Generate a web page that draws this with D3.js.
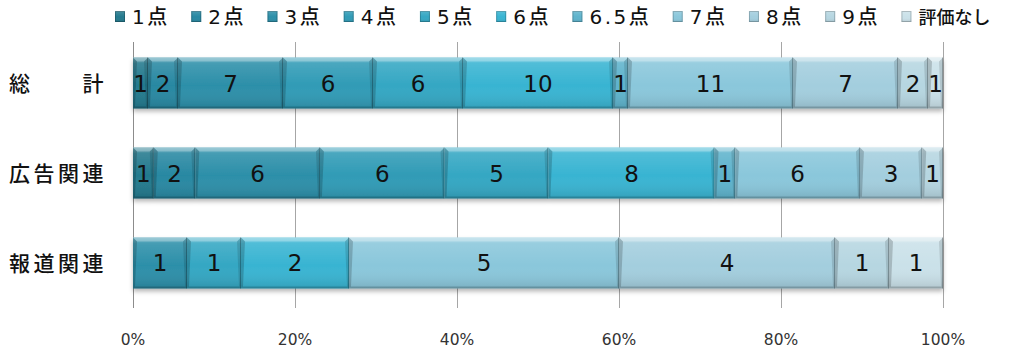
<!DOCTYPE html>
<html>
<head>
<meta charset="utf-8">
<script src="https://cdn.jsdelivr.net/npm/d3@7"></script>
<style>
  html, body { margin: 0; padding: 0; background: #fff; overflow: hidden; }
  svg { display: block; }
</style>
</head>
<body>
<svg id="chart" width="1013" height="350"></svg>
<script>
// Score distribution per group (counts), stacked to 100%
const categories = ["総　　計", "広告関連", "報道関連"];
const seriesNames = ["1点", "2点", "3点", "4点", "5点", "6点", "6.5点", "7点", "8点", "9点", "評価なし"];
const total    = [1, 2, 7, 6, 6, 10, 1, 11, 7, 2, 1];
const ad       = [1, 2, 6, 6, 5, 8, 1, 6, 3, 1, 0];
const press    = [0, 0, 1, 0, 1, 2, 0, 5, 4, 1, 1];
const tickValues = [0, 0.2, 0.4, 0.6, 0.8, 1.0];
const seriesColors = ["#23798d", "#2888a2", "#2c8fa9", "#309bb6", "#34a7c3", "#38b4d2",
                      "#5eb3cc", "#8ac7db", "#a3cede", "#b6d6e1", "#cae1e9"];

const rows = [total, ad, press];
const svg = d3.select("#chart");
const W = 1013;
const plot = { left: 133, right: 943, top: 38, bottom: 308 };

const x = d3.scaleLinear().domain([0, 1]).range([plot.left, plot.right]);
const y = d3.scaleBand().domain(categories).range([plot.top, plot.bottom])
  .paddingInner(0.4333).paddingOuter(0.2167);
const color = d3.scaleOrdinal().domain(seriesNames).range(seriesColors);

// Build stacked segments
const table = categories.map((c, i) => {
  const o = { cat: c };
  seriesNames.forEach((s, j) => o[s] = rows[i][j]);
  o.sum = d3.sum(rows[i]);
  return o;
});
const stack = d3.stack().keys(seriesNames)
  .value((d, k) => d[k] / d.sum);
const layers = stack(table);

const defs = svg.append("defs");
const shade = defs.append("linearGradient").attr("id", "shade")
  .attr("x1", 0).attr("y1", 0).attr("x2", 0).attr("y2", 1);
shade.append("stop").attr("offset", "0").attr("stop-color", "#fff").attr("stop-opacity", 0.35);
shade.append("stop").attr("offset", "0.12").attr("stop-color", "#fff").attr("stop-opacity", 0.12);
shade.append("stop").attr("offset", "0.55").attr("stop-color", "#fff").attr("stop-opacity", 0);
shade.append("stop").attr("offset", "1").attr("stop-color", "#000").attr("stop-opacity", 0.12);
const shadow = defs.append("filter").attr("id", "shadow")
  .attr("x", "-5%").attr("y", "-20%").attr("width", "110%").attr("height", "150%");
shadow.append("feDropShadow").attr("dx", 0).attr("dy", 3).attr("stdDeviation", 2)
  .attr("flood-color", "#000").attr("flood-opacity", 0.28);

// Vertical gridlines
svg.append("g").selectAll("line").data(tickValues).join("line")
  .attr("x1", d => x(d)).attr("x2", d => x(d))
  .attr("y1", 42).attr("y2", plot.bottom)
  .attr("stroke", d => d === 0 ? "#8c8c8c" : "#a6a6a6").attr("stroke-width", 1)
  .attr("shape-rendering", "crispEdges");

// Tick labels
svg.append("g").selectAll("text").data(tickValues).join("text")
  .attr("x", d => x(d)).attr("y", 345)
  .attr("text-anchor", "middle")
  .attr("font-family", "'DejaVu Sans', sans-serif").attr("font-size", 15.5)
  .attr("fill", "#333")
  .text(d => d3.format(".0%")(d));

// Bars
const barsG = svg.append("g").attr("filter", "url(#shadow)");
const segs = [];
layers.forEach(layer => {
  layer.forEach(d => {
    if (d[1] - d[0] <= 0) return;
    segs.push({ key: layer.key, cat: d.data.cat, v0: d[0], v1: d[1], n: d.data[layer.key] });
  });
});

const seg = barsG.selectAll("g.seg").data(segs).join("g").attr("class", "seg");
seg.each(function(d) {
  const g = d3.select(this);
  const x0 = x(d.v0), x1 = x(d.v1);
  const y0 = y(d.cat), y1 = y0 + y.bandwidth();
  const b = 4;
  g.append("rect").attr("x", x0).attr("y", y0).attr("width", x1 - x0).attr("height", y1 - y0)
    .attr("fill", color(d.key));
  g.append("rect").attr("x", x0).attr("y", y0).attr("width", x1 - x0).attr("height", y1 - y0)
    .attr("fill", "url(#shade)");
  // top bevel
  g.append("polygon")
    .attr("points", [[x0, y0], [x1, y0], [x1 - b, y0 + b], [x0 + b, y0 + b]].join(" "))
    .attr("fill", "#fff").attr("fill-opacity", 0.28);
  // bottom bevel
  g.append("polygon")
    .attr("points", [[x0, y1], [x1, y1], [x1 - 2, y1 - 2], [x0 + 2, y1 - 2]].join(" "))
    .attr("fill", "#000").attr("fill-opacity", 0.18);
  // left bevel
  g.append("polygon")
    .attr("points", [[x0, y0], [x0 + b, y0 + b], [x0 + 2, y1 - 2], [x0, y1]].join(" "))
    .attr("fill", "#000").attr("fill-opacity", 0.18);
  // right bevel
  g.append("polygon")
    .attr("points", [[x1, y0], [x1 - b, y0 + b], [x1 - 2, y1 - 2], [x1, y1]].join(" "))
    .attr("fill", "#000").attr("fill-opacity", 0.12);
  g.append("line").attr("x1", x1 - 0.5).attr("x2", x1 - 0.5).attr("y1", y0).attr("y2", y1)
    .attr("stroke", "#000").attr("stroke-opacity", 0.25).attr("stroke-width", 1);
});

// Value labels
svg.append("g").selectAll("text").data(segs).join("text")
  .attr("x", d => (x(d.v0) + x(d.v1)) / 2)
  .attr("y", d => y(d.cat) + y.bandwidth() / 2 + 8.5)
  .attr("text-anchor", "middle")
  .attr("font-family", "'DejaVu Sans', sans-serif").attr("font-size", 23)
  .attr("fill", "#111")
  .text(d => d.n);

// Category labels
svg.append("g").selectAll("text").data(categories).join("text")
  .attr("x", 9)
  .attr("y", d => y(d) + y.bandwidth() / 2 + 8)
  .attr("font-family", "'Noto Sans CJK JP', sans-serif").attr("font-size", 21)
  .attr("font-weight", 500)
  .attr("letter-spacing", 3.5)
  .attr("fill", "#111")
  .text(d => d);

// Legend (the last label is set a little tighter so it stays inside the page)
const legend = svg.append("g");
let lx = 115;
seriesNames.forEach((name, i) => {
  const last = i === seriesNames.length - 1;
  const item = legend.append("g");
  item.append("rect").attr("x", lx).attr("y", 11).attr("width", 10).attr("height", 11)
    .attr("fill", color(name));
  item.append("rect").attr("x", lx).attr("y", 11).attr("width", 10).attr("height", 11)
    .attr("fill", "url(#shade)");
  item.append("rect").attr("x", lx + 0.5).attr("y", 11.5).attr("width", 9).attr("height", 10)
    .attr("fill", "none").attr("stroke", "#000").attr("stroke-opacity", 0.2);
  const t = item.append("text").attr("x", lx + 17).attr("y", 24)
    .attr("font-family", "'DejaVu Sans', 'Noto Sans CJK JP', sans-serif")
    .attr("font-size", last ? 18 : 20)
    .attr("font-weight", 500)
    .attr("letter-spacing", last ? 0 : 2.5)
    .attr("fill", "#111")
    .text(name);
  lx += 17 + t.node().getComputedTextLength() + 21.5;
});
</script>
</body>
</html>
